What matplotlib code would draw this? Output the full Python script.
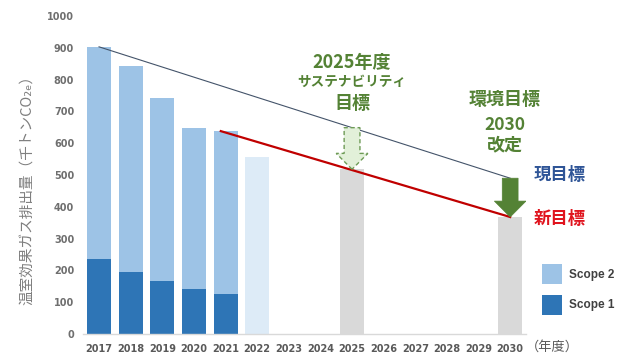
import matplotlib
matplotlib.use("Agg")
import matplotlib.pyplot as plt
from matplotlib.patches import FancyArrow
import numpy as np

plt.rcParams['font.family'] = ['Noto Sans CJK JP', 'DejaVu Sans']

years = [2017, 2018, 2019, 2020, 2021, 2022, 2023, 2024, 2025, 2026, 2027, 2028, 2029, 2030]
actual_years = [2017, 2018, 2019, 2020, 2021]
scope1 = [236, 195, 168, 141, 127]
scope2 = [667, 648, 575, 507, 511]
prelim_year = [2022]
prelim_total = [558]
target_years = [2025, 2030]
target_values = [518, 368]
current_line_years = [2017, 2030]
current_line_values = [903, 490]
new_line_years = [2021, 2030]
new_line_values = [638, 368]
yticks = [0, 100, 200, 300, 400, 500, 600, 700, 800, 900, 1000]

C_S1 = '#2E75B6'
C_S2 = '#9DC3E6'
C_PRE = '#DDEBF7'
C_GRAY = '#D9D9D9'
C_GREEN = '#548235'
C_TEXT = '#595959'

fig = plt.figure(figsize=(6.21, 3.55), dpi=100)
ax = fig.add_axes([0.134, 0.059, 0.713, 0.896])

idx = {y: i for i, y in enumerate(years)}
xa = [idx[y] for y in actual_years]
w = 0.76
b1 = ax.bar(xa, scope1, width=w, color=C_S1, label='Scope 1', zorder=2)
b2 = ax.bar(xa, scope2, width=w, bottom=scope1, color=C_S2, label='Scope 2', zorder=2)
ax.bar([idx[y] for y in prelim_year], prelim_total, width=w, color=C_PRE, zorder=2)
ax.bar([idx[y] for y in target_years], target_values, width=w, color=C_GRAY, zorder=2)

ax.plot([idx[y] for y in current_line_years], current_line_values,
        color='#44546A', lw=0.8, zorder=3)
ax.plot([idx[y] - 0.15 if y == 2021 else idx[y] for y in new_line_years], new_line_values,
        color='#C00000', lw=1.6, zorder=3)

# dashed arrow at 2025
x25 = idx[2025]
top25 = current_line_values[0] + (current_line_values[1] - current_line_values[0]) * (2025 - 2017) / (2030 - 2017)
arr1 = FancyArrow(x25, top25, 0, target_values[0] - top25, width=0.5, head_width=1.0,
                  head_length=50, length_includes_head=True,
                  facecolor='#E2F0D9', edgecolor='#6E9B56', linestyle=(0, (3, 2)), lw=1.0, zorder=4)
ax.add_patch(arr1)

# solid arrow at 2030
x30 = idx[2030]
arr2 = FancyArrow(x30, current_line_values[1], 0, target_values[1] - current_line_values[1],
                  width=0.5, head_width=1.0, head_length=50, length_includes_head=True,
                  facecolor=C_GREEN, edgecolor=C_GREEN, lw=0.5, zorder=4)
ax.add_patch(arr2)

ax.set_xlim(-0.5, 13.5)
ax.set_ylim(0, 1000)
ax.set_xticks(range(len(years)))
ax.set_xticklabels([str(y) for y in years], family='DejaVu Sans', fontweight='bold',
                   fontsize=7, color=C_TEXT)
ax.set_yticks(yticks)
ax.set_yticklabels([str(v) for v in yticks], family='DejaVu Sans', fontweight='bold',
                   fontsize=7, color='#6F6F6F')
ax.tick_params(axis='both', length=0)
ax.tick_params(axis='x', pad=7.5)
ax.tick_params(axis='y', pad=6.5)
for s in ['top', 'right', 'left']:
    ax.spines[s].set_visible(False)
ax.spines['bottom'].set_color('#D9D9D9')
ax.spines['bottom'].set_linewidth(1.0)

fig.text(0.045, 0.476, '温室効果ガス排出量（千トンCO₂ₑ）', rotation=90, ha='center', va='center',
         fontsize=10.5, color='#7F7F7F')
fig.text(0.889, 0.022, '（年度）', ha='center', va='center', fontsize=9.5, color=C_TEXT)

ax.text(x25, 855, '2025年度', ha='center', va='center', fontsize=13,
        fontweight='bold', color=C_GREEN)
ax.text(x25, 792, 'サステナビリティ', ha='center', va='center', fontsize=9.8,
        fontweight='bold', color=C_GREEN)
ax.text(x25, 726, '目標', ha='center', va='center', fontsize=13,
        fontweight='bold', color=C_GREEN)
xe = 12.82
ax.text(xe, 736, '環境目標', ha='center', va='center', fontsize=13,
        fontweight='bold', color=C_GREEN)
ax.text(xe, 657, '2030', ha='center', va='center', fontsize=12.5,
        fontweight='bold', color=C_GREEN)
ax.text(xe, 594, '改定', ha='center', va='center', fontsize=13,
        fontweight='bold', color=C_GREEN)
fig.text(0.902, 0.507, '現目標', ha='center', va='center', fontsize=12.5, fontweight='bold',
         color='#2F5597')
fig.text(0.902, 0.383, '新目標', ha='center', va='center', fontsize=12.5, fontweight='bold',
         color='#E0141E')

leg = ax.legend(handles=[b2, b1], labels=['Scope 2', 'Scope 1'], loc='upper left',
                bbox_to_anchor=(0.872, 0.255), bbox_transform=fig.transFigure,
                frameon=False, handlelength=1.75, handleheight=2.2, labelspacing=0.9,
                handletextpad=0.6, borderaxespad=0, borderpad=0,
                prop={'family': 'Liberation Sans', 'weight': 'bold', 'size': 8.5})
for t in leg.get_texts():
    t.set_color('#404040')

fig.savefig('out.png', dpi=100)
